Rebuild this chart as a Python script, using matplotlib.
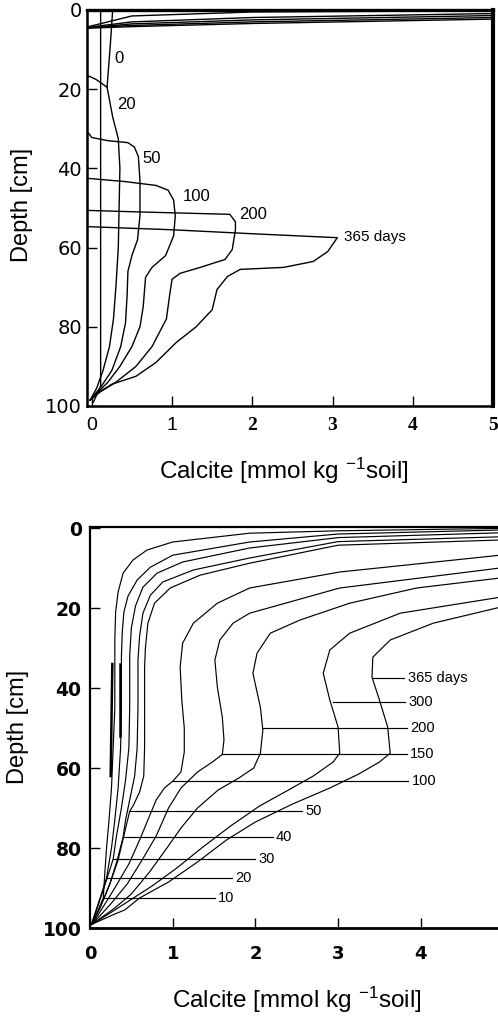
import matplotlib
matplotlib.use("Agg")
import matplotlib.pyplot as plt

plt.rcParams["mathtext.fontset"] = "custom"
plt.rcParams["mathtext.rm"] = "Liberation Sans"
plt.rcParams["mathtext.it"] = "Liberation Sans"

# ---- upper panel: calcite profiles, (calcite, depth) ----
top_ref = [(0.11, 0), (0.11, 95), (0.02, 99)]
top_d0 = [(0.26, 0), (0.23, 9), (0.19, 19.5)]
top_d20 = [(5.0, 0.2), (2.0, 0.5), (0.5, 1.5), (-0.06, 4.3), (-0.06, 16.5),
           (0.05, 17.5), (0.19, 19.5), (0.26, 27), (0.33, 32.5), (0.35, 40),
           (0.34, 50), (0.33, 60), (0.3, 70), (0.27, 78), (0.22, 85),
           (0.14, 91), (0.06, 95.5), (-0.02, 98.5)]
top_d50 = [(5.0, 0.9), (2.0, 1.9), (0.5, 3.0), (-0.06, 4.4), (-0.06, 30.6),
           (0.0, 32.2), (0.2, 33), (0.45, 33.5), (0.53, 34.6), (0.58, 37),
           (0.6, 43), (0.6, 52), (0.57, 58), (0.5, 62), (0.45, 66), (0.44, 72),
           (0.42, 79), (0.36, 85), (0.25, 91), (0.12, 95), (-0.02, 98.5)]
top_d100 = [(5.0, 1.4), (2.0, 2.5), (0.5, 3.5), (-0.06, 4.5), (-0.06, 42.5),
            (0.4, 43.3), (0.8, 44.3), (0.95, 45.5), (1.02, 48), (1.04, 52),
            (1.02, 57), (0.92, 62), (0.75, 65), (0.67, 67.5), (0.64, 75),
            (0.6, 80), (0.5, 85), (0.35, 90), (0.2, 94), (-0.02, 98.5)]
top_d200 = [(5.0, 1.9), (2.0, 3.0), (0.5, 3.9), (-0.06, 4.5), (-0.06, 50.6),
            (0.6, 51.0), (1.35, 51.4), (1.72, 51.6), (1.79, 53.5), (1.79, 55.5),
            (1.75, 60.5), (1.66, 63), (1.35, 65), (1.1, 66.5), (1.0, 68),
            (0.97, 72), (0.93, 78), (0.75, 85), (0.55, 90), (0.3, 94),
            (0.1, 96.5), (-0.02, 98.5)]
top_d365 = [(5.0, 2.3), (2.0, 3.4), (0.5, 4.2), (-0.06, 4.6), (-0.06, 54.7),
            (1.0, 55.5), (2.0, 56.5), (3.06, 57.5), (2.94, 61), (2.76, 63.5),
            (2.39, 65), (1.85, 65.5), (1.69, 67.3), (1.56, 70.6), (1.5, 75.7),
            (1.3, 80), (1.05, 84), (0.8, 89), (0.55, 92.5), (0.25, 94.5),
            (0.05, 97), (-0.02, 98.5)]
top_curves = [top_ref, top_d0, top_d20, top_d50, top_d100, top_d200, top_d365]
top_labels = ["0", "20", "50", "100", "200", "365 days"]
top_label_xy = [(0.275, 12.2), (0.31, 23.8), (0.63, 37.5), (1.13, 47.1),
                (1.83, 51.6), (3.14, 57.2)]
top_xticks = [0, 1, 2, 3, 4, 5]
top_yticks = [0, 20, 40, 60, 80, 100]

# ---- lower panel ----
b10 = [(4.96, 0.1), (3.0, 0.7), (1.93, 1.3), (1.0, 3.5), (0.69, 5.5), (0.52, 8),
       (0.4, 11.3), (0.34, 16), (0.31, 21), (0.30, 28), (0.30, 45), (0.28, 55),
       (0.26, 65), (0.23, 73), (0.2, 80), (0.18, 86), (0.16, 92.5), (0.08, 96.5),
       (0.02, 99)]
b20 = [(4.96, 0.5), (3.0, 1.5), (1.93, 3.5), (1.0, 6.8), (0.73, 9.8), (0.57, 13),
       (0.46, 17), (0.41, 21), (0.39, 26), (0.38, 32), (0.38, 45), (0.37, 55),
       (0.34, 65), (0.3, 73), (0.26, 80), (0.2, 87.5), (0.13, 92), (0.05, 97),
       (0.02, 99)]
b30 = [(4.96, 1.2), (3.0, 2.4), (1.93, 5), (1.12, 8.5), (0.81, 11.3), (0.64, 14.8),
       (0.55, 19.5), (0.5, 25), (0.48, 32), (0.48, 45), (0.47, 55), (0.43, 63),
       (0.38, 70), (0.32, 77), (0.28, 82.8), (0.2, 88), (0.12, 93), (0.04, 98),
       (0.02, 99)]
b40 = [(4.96, 2.2), (3.0, 3.4), (1.93, 7.5), (1.25, 10.5), (0.88, 13.5),
       (0.73, 16.8), (0.64, 21.3), (0.6, 27), (0.58, 33), (0.58, 45), (0.57, 55),
       (0.54, 62), (0.48, 68), (0.43, 73), (0.4, 77.3), (0.33, 83), (0.24, 89),
       (0.12, 95), (0.02, 99)]
b50 = [(4.96, 3.0), (3.0, 4.3), (1.93, 8.8), (1.33, 11.8), (0.97, 15),
       (0.78, 18.8), (0.7, 23.8), (0.67, 30), (0.66, 35), (0.66, 45), (0.66, 55),
       (0.65, 62), (0.6, 66), (0.52, 69.5), (0.48, 70.8), (0.42, 76), (0.34, 83),
       (0.24, 89), (0.12, 95), (0.02, 99)]
b100 = [(4.96, 6.8), (3.02, 11), (1.93, 15), (1.54, 18.8), (1.25, 23.8),
        (1.12, 28.8), (1.09, 34.8), (1.11, 43), (1.14, 50), (1.14, 56), (1.1, 61),
        (1.0, 63.3), (0.9, 65), (0.8, 68), (0.7, 73), (0.6, 78), (0.47, 84),
        (0.3, 90), (0.15, 95), (0.03, 99)]
b150 = [(4.96, 10), (3.02, 15), (1.93, 21.3), (1.73, 23.8), (1.57, 28),
        (1.51, 33), (1.54, 39.8), (1.6, 47.3), (1.62, 53), (1.6, 56.6),
        (1.48, 58.5), (1.3, 61), (1.1, 65), (0.95, 70), (0.8, 77), (0.63, 83),
        (0.45, 89), (0.25, 94), (0.03, 99)]
b200 = [(4.96, 12.5), (3.95, 15), (3.14, 18.8), (2.54, 23), (2.18, 26.3),
        (2.02, 31.3), (1.97, 36.3), (2.06, 44.8), (2.09, 50.5), (2.06, 56.3),
        (1.98, 60), (1.8, 62.5), (1.55, 65.5), (1.3, 70), (1.1, 75), (0.93, 80),
        (0.72, 86), (0.5, 91.5), (0.3, 95), (0.03, 99)]
b300 = [(4.96, 17.3), (3.75, 21.3), (3.14, 26.3), (2.9, 30.5), (2.82, 36.3),
        (2.9, 43), (3.0, 49.8), (3.02, 56.3), (2.94, 58.5), (2.7, 62),
        (2.4, 65.5), (2.05, 69.5), (1.7, 74.5), (1.35, 80), (1.05, 85),
        (0.75, 89.5), (0.45, 93.5), (0.3, 95.5), (0.03, 99)]
b365 = [(4.96, 19.8), (4.15, 23.8), (3.63, 28), (3.42, 32.3), (3.41, 37.3),
        (3.5, 43), (3.6, 49.8), (3.63, 56.3), (3.5, 58.5), (3.25, 61.5),
        (2.9, 65), (2.45, 69), (2.0, 73.5), (1.65, 78), (1.3, 83.5),
        (0.95, 88.5), (0.6, 92.5), (0.42, 95.5), (0.3, 96.5), (0.03, 99)]
bot_curves = [b10, b20, b30, b40, b50, b100, b150, b200, b300, b365]
bot_heavy = [[(0.27, 34), (0.25, 62)], [(0.36, 34), (0.36, 52)]]
bot_labels = ["10", "20", "30", "40", "50", "100", "150", "200", "300", "365 days"]
# leader: start value, depth, end value
bot_leaders = [(0.16, 92.5, 1.51), (0.2, 87.5, 1.72), (0.28, 82.8, 2.0),
               (0.4, 77.3, 2.21), (0.48, 70.8, 2.56), (1.0, 63.3, 3.85),
               (1.6, 56.6, 3.83), (2.09, 50.0, 3.83), (2.94, 43.5, 3.81),
               (3.42, 37.5, 3.80)]
bot_xticks = [0, 1, 2, 3, 4]
bot_yticks = [0, 20, 40, 60, 80, 100]

W, H = 498, 1019
fig = plt.figure(figsize=(W / 100, H / 100), dpi=100)
sans = "Liberation Sans"

# upper panel
ax1 = fig.add_axes([87 / W, 1 - 406 / H, (493 - 87) / W, (406 - 10) / H])
ax1.set_xlim(-0.06, 5.0)
ax1.set_ylim(100, 0)
for c in top_curves:
    ax1.plot([p[0] for p in c], [p[1] for p in c], color="black", lw=1.0,
             solid_joinstyle="round")
for lab, (x, y) in zip(top_labels, top_label_xy):
    fs = 11 if lab == "365 days" else 12
    ax1.text(x, y, lab, family=sans, fontsize=fs, ha="left", va="center")
for s, w in zip(["left", "top", "right", "bottom"], [1.8, 2.4, 3.0, 1.8]):
    ax1.spines[s].set_linewidth(w)
ax1.tick_params(direction="in", length=7, width=1.0)
ax1.tick_params(axis="y", pad=3.5)
ax1.tick_params(axis="x", pad=8)
ax1.set_xticks(top_xticks)
ax1.set_xticklabels([str(v) for v in top_xticks])
for i, t in enumerate(ax1.get_xticklabels()):
    if i < 2:
        t.set_family(sans)
        t.set_fontsize(14)
    else:
        t.set_family("Liberation Serif")
        t.set_fontweight("bold")
        t.set_fontsize(14)
ax1.set_yticks(top_yticks)
ax1.set_yticklabels([str(v) for v in top_yticks], family="DejaVu Sans",
                    fontsize=14)

# lower panel
ax2 = fig.add_axes([90 / W, 1 - 928 / H, (W - 90) / W, (928 - 527) / H])
ax2.set_xlim(0, (W - 90) / 82.7)
ax2.set_ylim(100, -0.25)
for c in bot_curves:
    ax2.plot([p[0] for p in c], [p[1] for p in c], color="black", lw=0.85,
             solid_joinstyle="round")
for c in bot_heavy:
    ax2.plot([p[0] for p in c], [p[1] for p in c], color="black", lw=1.8)
for lab, (x0, d, x1) in zip(bot_labels, bot_leaders):
    ax2.plot([x0, x1], [d, d], color="black", lw=0.85)
    ax2.text(x1 + 0.04, d, lab, family=sans, fontsize=10.5, ha="left",
             va="center")
ax2.spines["right"].set_visible(False)
for s, w in zip(["left", "top", "bottom"], [1.6, 1.6, 2.0]):
    ax2.spines[s].set_linewidth(w)
ax2.tick_params(direction="in", length=7, width=1.0)
ax2.tick_params(axis="y", pad=6)
ax2.tick_params(axis="x", pad=12)
ax2.set_xticks(bot_xticks)
ax2.set_xticklabels([str(v) for v in bot_xticks], family="DejaVu Sans",
                    fontweight="bold", fontsize=13)
ax2.set_yticks(bot_yticks)
ax2.set_yticklabels([str(v) for v in bot_yticks], family="DejaVu Sans",
                    fontweight="bold", fontsize=13.5)

xlab = r"Calcite [mmol kg $^{-1}$soil]"
fig.text(284 / W, 1 - 471 / H, xlab, family=sans, fontsize=17.5,
         ha="center", va="center")
fig.text(297 / W, 1 - 1000 / H, xlab, family=sans, fontsize=17.5,
         ha="center", va="center")
fig.text(22 / W, 1 - 205 / H, "Depth [cm]", family=sans, fontsize=17,
         rotation=90, ha="center", va="center")
fig.text(18 / W, 1 - 727 / H, "Depth [cm]", family=sans, fontsize=17,
         rotation=90, ha="center", va="center")

fig.savefig("out.png", dpi=100)
